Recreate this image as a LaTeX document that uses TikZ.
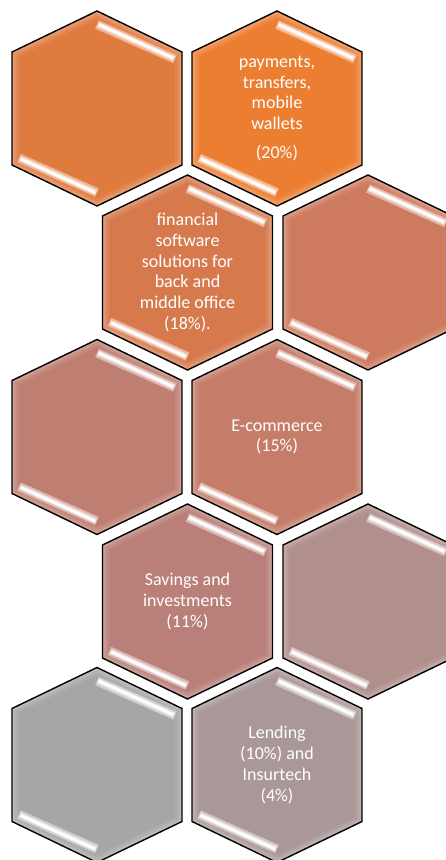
\documentclass[tikz,border=0pt]{standalone}
\usepackage{fontspec}
\setmainfont{Carlito}
\usepackage{tikz}

\definecolor{hexA}{HTML}{E07B40}
\definecolor{hexB}{HTML}{EC7E32}
\definecolor{hexC}{HTML}{D67A4E}
\definecolor{hexD}{HTML}{CE7A5E}
\definecolor{hexE}{HTML}{BF7E72}
\definecolor{hexF}{HTML}{C57C69}
\definecolor{hexG}{HTML}{B97F78}
\definecolor{hexH}{HTML}{B08F8C}
\definecolor{hexI}{HTML}{A6A6A6}
\definecolor{hexJ}{HTML}{AA9797}

\begin{document}
\begin{tikzpicture}[x=1pt, y=-1pt]
    \tikzset{
        hexline/.style={insert path={(0,-97.5) -- (85,-56.5) -- (85,56.5) -- (0,97.5) -- (-85,56.5) -- (-85,-56.5) -- cycle}},
        celltext/.style={text=white, align=center, font=\fontsize{18}{20.7}\selectfont},
        hexcell/.pic={
            \begin{scope}
                \path[clip, hexline];
                \path[fill=#1, hexline];
                % soft inner rim
                \path[draw=white, draw opacity=.07, line width=14pt, hexline];
                \path[draw=white, draw opacity=.09, line width=9pt, hexline];
                \path[draw=white, draw opacity=.12, line width=5pt, hexline];
                % gloss strips
                \draw[#1!55!white, line width=9pt] (0,-84) -- (78,-49.5);
                \draw[#1!20!white, line width=5pt] (1,-84) -- (77,-50);
                \draw[white, line width=2.2pt] (2,-84) -- (76,-50.5);
                \draw[#1!55!white, line width=9pt] (0,84) -- (-78,49.5);
                \draw[#1!20!white, line width=5pt] (-1,84) -- (-77,50);
                \draw[white, line width=2.2pt] (-2,84) -- (-76,50.5);
            \end{scope}
            \path[draw=black, line width=1.4pt, line join=miter, hexline];
        }
    }
    \useasboundingbox (0,0) rectangle (446,860);
    \clip (0,0) rectangle (446,860);

    % CENTRES
    \coordinate (cA) at (97,108.5);
    \coordinate (cB) at (277,108.5);
    \coordinate (cC) at (187.5,272.5);
    \coordinate (cD) at (368,272.5);
    \coordinate (cE) at (97,437);
    \coordinate (cF) at (277,437);
    \coordinate (cG) at (187.5,601.5);
    \coordinate (cH) at (368,601.5);
    \coordinate (cI) at (97,765);
    \coordinate (cJ) at (277,765);

    % HEXAGONS
    \pic at (cA) {hexcell=hexA};
    \pic at (cB) {hexcell=hexB};
    \pic at (cC) {hexcell=hexC};
    \pic at (cD) {hexcell=hexD};
    \pic at (cE) {hexcell=hexE};
    \pic at (cF) {hexcell=hexF};
    \pic at (cG) {hexcell=hexG};
    \pic at (cH) {hexcell=hexH};
    \pic at (cI) {hexcell=hexI};
    \pic at (cJ) {hexcell=hexJ};

    % LABELS
    \node[celltext] (payments) at (cB) {payments,\\transfers,\\mobile\\wallets\\[8pt](20\%)};
    \node[celltext] (software) at (cC) {financial\\software\\solutions for\\back and\\middle office\\(18\%).};
    \node[celltext] (ecommerce) at (cF) {E-commerce\\(15\%)};
    \node[celltext] (savings) at (cG) {Savings and\\investments\\(11\%)};
    \node[celltext] (lending) at (cJ) {Lending\\(10\%) and\\Insurtech\\(4\%)};

\end{tikzpicture}
\end{document}
